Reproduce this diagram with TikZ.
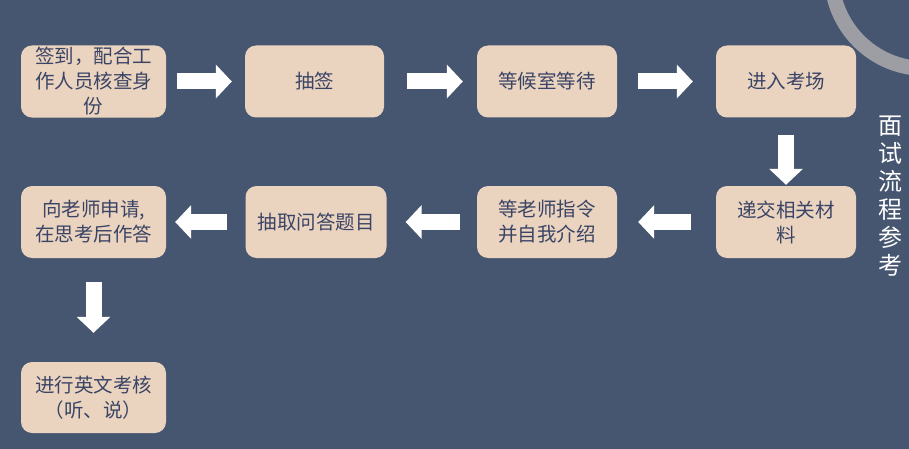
\documentclass[tikz,border=0pt]{standalone}
\usepackage{fontspec}
\newfontfamily\cjk{Noto Sans CJK SC}
\usetikzlibrary{arrows.meta, positioning}

\definecolor{bgblue}{HTML}{465670}
\definecolor{peach}{HTML}{EBD4BF}
\definecolor{inkblue}{HTML}{3A4466}
\definecolor{ringgray}{HTML}{9C9EA3}

\begin{document}
\begin{tikzpicture}[x=1pt, y=-1pt,
    box/.style={rectangle, rounded corners=11pt, fill=peach, text=inkblue, minimum width=140pt, minimum height=72pt, inner sep=2pt, align=center, font=\cjk\fontsize{19.5}{25}\selectfont},
    widebox/.style={box, minimum width=145pt},
    arrow/.style={white, line width=16pt, -{Triangle[width=33pt, length=16pt]}}]

    % Background
    \fill[bgblue] (0,0) rectangle (909,449);
    \useasboundingbox (0,0) rectangle (909,449);
    \begin{scope}
        \clip (0,0) rectangle (909,449);
        \draw[ringgray, line width=15pt] (925,-25) circle (93.5);
    \end{scope}

    % Nodes
    \node[widebox] (sign) at (93.5,81.5) {签到，配合工\\作人员核查身\\份};
    \node[box, minimum width=139pt] (draw) at (314.5,81.5) {抽签};
    \node[box] (wait) at (547,81.5) {等候室等待};
    \node[box] (enter) at (786,81.5) {进入考场};
    \node[box] (submit) at (786,222) {递交相关材\\料};
    \node[box] (intro) at (547,222) {等老师指令\\并自我介绍};
    \node[box, minimum width=141pt] (pick) at (316,222) {抽取问答题目};
    \node[widebox] (answer) at (93.5,222) {向老师申请,\\在思考后作答};
    \node[widebox, minimum height=71pt] (english) at (93.5,397.5) {进行英文考核\\（听、说）};
    \node[text=white, align=center, font=\cjk\fontsize{24}{28}\selectfont] (title) at (890,196) {面\\试\\流\\程\\参\\考};

    % Arrows
    \draw[arrow, shorten <=11pt, shorten >=13pt] (sign) -- (draw);
    \draw[arrow, shorten <=23pt, shorten >=14pt] (draw) -- (wait);
    \draw[arrow, shorten <=21pt, shorten >=23pt] (wait) -- (enter);
    \draw[arrow, shorten <=17pt, shorten >=1pt] (enter) -- (submit);
    \draw[arrow, shorten <=25pt, shorten >=21pt] (submit) -- (intro);
    \draw[arrow, shorten <=17pt, shorten >=19pt] (intro) -- (pick);
    \draw[arrow, shorten <=18pt, shorten >=9pt] (pick) -- (answer);
    \draw[arrow, shorten <=24pt, shorten >=29pt] (answer) -- (english);

\end{tikzpicture}
\end{document}
